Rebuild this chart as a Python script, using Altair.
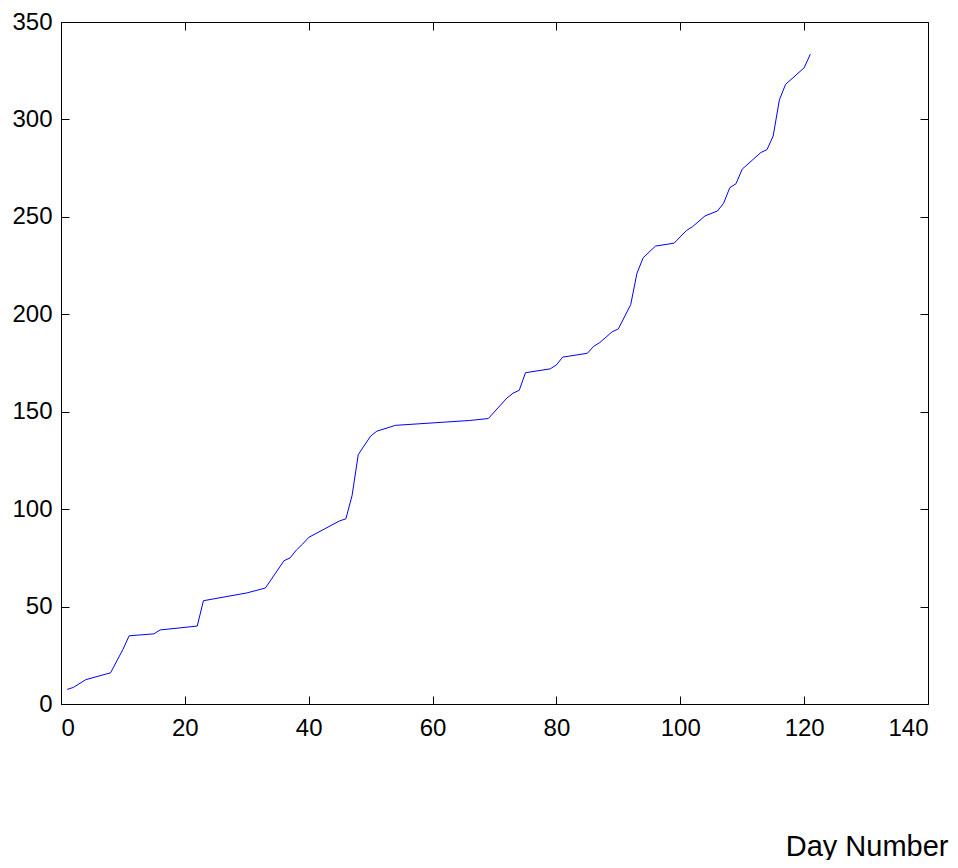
import altair as alt
import pandas as pd

day = [1, 2, 4, 8, 10, 11, 15, 16, 22, 23, 30, 33, 36, 37, 38, 39, 40, 45, 46, 47,
       48, 50, 51, 54, 66, 69, 72, 73, 74, 75, 79, 80, 81, 85, 86, 87, 89, 90, 92, 93,
       94, 96, 99, 101, 102, 104, 106, 107, 108, 109, 110, 113, 114, 115, 116, 117, 120, 121]
value = [7.5, 8.5, 12.5, 16, 28, 35, 36, 38, 40, 53, 57, 59.5, 73.5, 75, 79, 82, 85.5, 94, 95, 107,
         128, 137.5, 140, 143, 145.5, 146.5, 157, 159.5, 161, 170, 172, 174, 178, 180, 183.5, 185.5, 191, 192.5, 205, 221,
         229, 235, 236.5, 243, 245, 250.5, 253, 257, 265, 267, 274.5, 283, 284.5, 291.5, 310, 318, 326.5, 333.5]
x_ticks = [0, 20, 40, 60, 80, 100, 120, 140]
y_ticks = [0, 50, 100, 150, 200, 250, 300, 350]

df = pd.DataFrame({"day": day, "value": value})

W, H = 867, 682
FONT = "Liberation Sans"
xs = alt.Scale(domain=[0, 140], nice=False, zero=False)
ys = alt.Scale(domain=[0, 350], nice=False, zero=False)

lab = dict(labelFont=FONT, labelFontSize=24, labelColor="black", grid=False, domain=False,
           ticks=False, tickSize=0, format="d")

base = alt.Chart(df)

main = base.mark_line(color="#0000FF", strokeWidth=1).encode(
    x=alt.X("day:Q", scale=xs, axis=alt.Axis(
        orient="bottom", values=x_ticks, labelPadding=12,
        title="Day Number", titleFont=FONT, titleFontSize=29, titleFontWeight="normal",
        titleColor="black", titleAnchor="end", titleAlign="right", titleBaseline="alphabetic",
        titleX=887, titleY=151, **lab)),
    y=alt.Y("value:Q", scale=ys, axis=alt.Axis(
        orient="left", values=y_ticks, labelPadding=9, title=None, **lab)),
)


def tick_axis(orient, vals, offset):
    return alt.Axis(orient=orient, values=vals, offset=offset, labels=False, domain=False,
                    grid=False, ticks=True, tickSize=8, tickColor="black", tickWidth=1, title=None)


ticks1 = base.mark_line(opacity=0).encode(
    x=alt.X("day:Q", scale=xs, axis=tick_axis("top", x_ticks, -H)),
    y=alt.Y("value:Q", scale=ys, axis=tick_axis("right", y_ticks, -W)),
)
ticks2 = base.mark_line(opacity=0).encode(
    x=alt.X("day:Q", scale=xs, axis=tick_axis("bottom", x_ticks, -H)),
    y=alt.Y("value:Q", scale=ys, axis=tick_axis("left", y_ticks, -W)),
)

chart = alt.layer(main, ticks1, ticks2).resolve_axis(
    x="independent", y="independent"
).properties(
    width=W, height=H,
    autosize=alt.AutoSizeParams(type="none"),
    padding={"left": 53, "top": 14, "right": 22, "bottom": 156},
    background="white",
).configure_view(stroke="black", strokeWidth=1)

chart.save("out.html", embed_options={"renderer": "svg", "actions": False})
